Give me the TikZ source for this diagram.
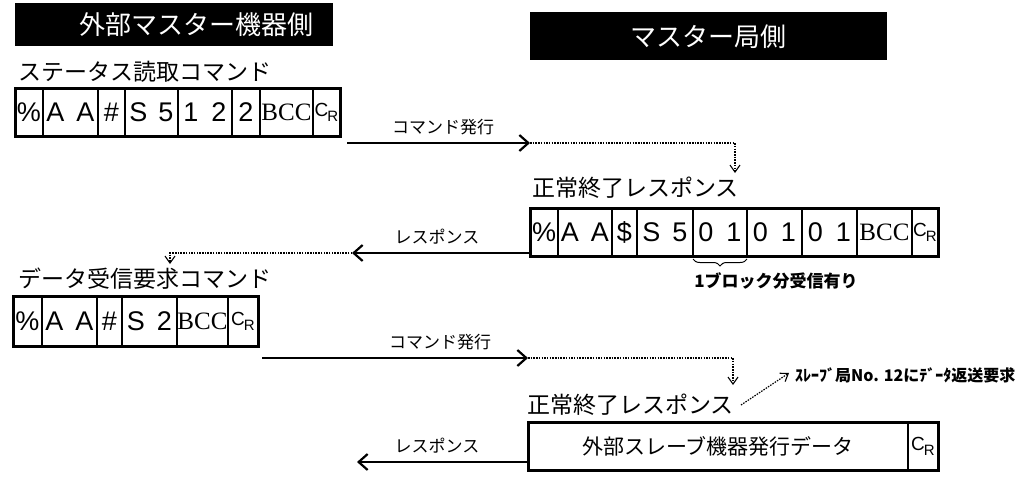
\documentclass[tikz,border=0pt]{standalone}
\usepackage{fontspec}
\newfontfamily\jp{Noto Sans CJK JP}
\newfontfamily\lat{Liberation Sans}
\newfontfamily\latser{Liberation Serif}
\usetikzlibrary{arrows.meta,decorations.pathreplacing}
\newcommand\crmark{{\lat\fontsize{19}{19}\selectfont C\kern-1pt\raisebox{-5pt}{\fontsize{15}{15}\selectfont R}}}
\newcommand\bccmark{{\latser\fontsize{25}{25}\selectfont BCC}}
\tikzset{
 banner/.style={fill=black,inner sep=0,outer sep=0},
 bannertext/.style={text=white,font=\jp\fontsize{26}{30}\selectfont,inner sep=0},
 title/.style={font=\jp\fontsize{23}{26}\selectfont,anchor=west,inner sep=0},
 cell/.style={draw,line width=1.6pt,minimum height=48pt,inner sep=0,outer sep=0,anchor=west,font=\lat\fontsize{27}{28}\selectfont},
 frameline/.style={line width=3pt},
 cmd/.style={line width=2.5pt,-{Straight Barb[length=9pt,width=16pt,line width=2.2pt]}},
 dotarrow/.style={line width=1.2pt,dash pattern=on 1.5pt off 1.2pt,-{Straight Barb[length=7pt,width=10pt,line width=1.1pt]}},
 lbl/.style={font=\jp\fontsize{17}{20}\selectfont,inner sep=0},
 note/.style={font=\jp\bfseries\fontsize{16}{18}\selectfont,inner sep=0,anchor=west},
}
\begin{document}
\begin{tikzpicture}[x=1pt,y=-1pt]
\useasboundingbox (0,0) rectangle (1023,477);
% banners
\node[banner,minimum width=318pt,minimum height=43pt] (bl) at (174,24) {};
\node[bannertext] (blt) at (196,25) {外部マスター機器側};
\node[banner,minimum width=357pt,minimum height=48pt] (br) at (708.5,36) {};
\node[bannertext] (brt) at (708,37) {マスター局側};

% frame 1
\node[title] (t1) at (18,72) {ステータス読取コマンド};
\node[cell,minimum width=28pt] (a1) at (15,112) {\%};
\node[cell,minimum width=55pt] (a2) at (a1.east) {A\hspace{12pt}A};
\node[cell,minimum width=27pt] (a3) at (a2.east) {\#};
\node[cell,minimum width=53pt] (a4) at (a3.east) {S\hspace{11pt}5};
\node[cell,minimum width=54pt] (a5) at (a4.east) {1\hspace{13pt}2};
\node[cell,minimum width=28pt] (a6) at (a5.east) {2};
\node[cell,minimum width=53pt] (a7) at (a6.east) {\bccmark};
\node[cell,minimum width=27pt] (a8) at (a7.east) {\crmark};
\draw[frameline] (a1.north west) rectangle (a8.south east);

\coordinate (c1s) at (347,143);
\coordinate (c1e) at (530,143);
\coordinate (d1) at (735,173);
\draw[cmd] (c1s) -- (c1e);
\node[lbl] (l1) at (443,127) {コマンド発行};
\draw[dotarrow] (c1e) -| (d1);

% frame 2
\node[title] (t2) at (532,188) {正常終了レスポンス};
\node[cell,minimum width=28pt] (b1) at (530,232) {\%};
\node[cell,minimum width=54pt] (b2) at (b1.east) {A\hspace{12pt}A};
\node[cell,minimum width=25pt] (b3) at (b2.east) {\$};
\node[cell,minimum width=56pt] (b4) at (b3.east) {S\hspace{12pt}5};
\node[cell,minimum width=54pt] (b5) at (b4.east) {0\hspace{13pt}1};
\node[cell,minimum width=55pt] (b6) at (b5.east) {0\hspace{13pt}1};
\node[cell,minimum width=55pt] (b7) at (b6.east) {0\hspace{13pt}1};
\node[cell,minimum width=55pt] (b8) at (b7.east) {\bccmark};
\node[cell,minimum width=26pt] (b9) at (b8.east) {\crmark};
\draw[frameline] (b1.north west) rectangle (b9.south east);
\draw[line width=1pt,decorate,decoration={brace,mirror,amplitude=7pt}]
  ([yshift=-3pt]b5.south west) -- ([yshift=-3pt]b5.south east);
\node[lbl,font=\jp\bfseries\fontsize{17}{20}\selectfont] (l2) at (776,281) {1ブロック分受信有り};

\coordinate (c2s) at (530,253);
\coordinate (c2e) at (352,253);
\coordinate (d2) at (170,264);
\draw[cmd] (c2s) -- (c2e);
\node[lbl] (l3) at (437,237) {レスポンス};
\draw[dotarrow] (c2e) -| (d2);

% frame 3
\node[title] (t3) at (18,279) {データ受信要求コマンド};
\node[cell,minimum width=29pt,minimum height=50pt] (e1) at (13,321) {\%};
\node[cell,minimum width=55pt,minimum height=50pt] (e2) at (e1.east) {A\hspace{12pt}A};
\node[cell,minimum width=25pt,minimum height=50pt] (e3) at (e2.east) {\#};
\node[cell,minimum width=55pt,minimum height=50pt] (e4) at (e3.east) {S\hspace{12pt}2};
\node[cell,minimum width=51pt,minimum height=50pt] (e5) at (e4.east) {\bccmark};
\node[cell,minimum width=30pt,minimum height=50pt] (e6) at (e5.east) {\crmark};
\draw[frameline] (e1.north west) rectangle (e6.south east);

\coordinate (c3s) at (262,358);
\coordinate (c3e) at (528,358);
\coordinate (d3) at (733,385);
\draw[cmd] (c3s) -- (c3e);
\node[lbl] (l4) at (440,342) {コマンド発行};
\draw[dotarrow] (c3e) -| (d3);

% frame 4
\node[title] (t4) at (527,405) {正常終了レスポンス};
\coordinate (n1) at (741,405);
\coordinate (n2) at (789,373);
\draw[dotarrow] (n1) -- (n2);
\node[note] (nt) at (795,375) {ｽﾚｰﾌﾞ局No. 12にﾃﾞｰﾀ返送要求};
\node[cell,minimum width=380pt,font=\jp\fontsize{21}{24}\selectfont] (g1) at (528,446) {外部スレーブ機器発行データ};
\node[cell,minimum width=30pt] (g2) at (g1.east) {\crmark};
\draw[frameline] (g1.north west) rectangle (g2.south east);

\coordinate (c4s) at (528,462);
\coordinate (c4e) at (357,462);
\draw[cmd] (c4s) -- (c4e);
\node[lbl] (l5) at (437,446) {レスポンス};
\end{tikzpicture}
\end{document}
